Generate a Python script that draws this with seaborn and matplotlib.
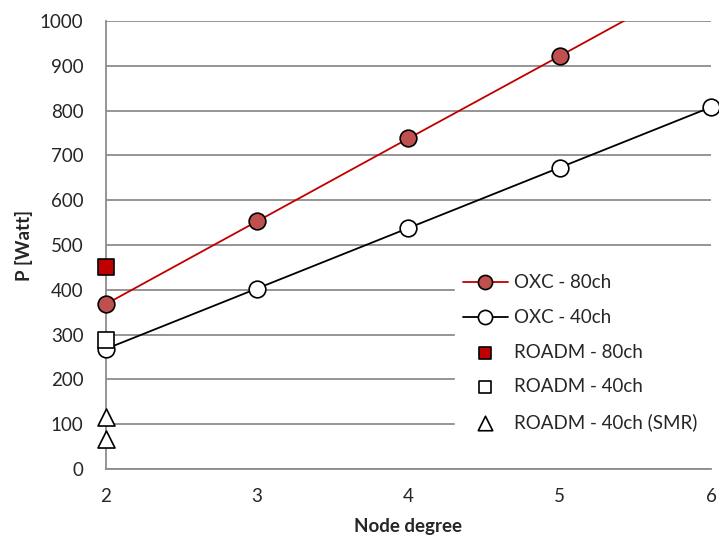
import numpy as np
import pandas as pd
import matplotlib
matplotlib.use('Agg')
import matplotlib.pyplot as plt
from matplotlib.patches import Rectangle
import seaborn as sns

# data
degree = [2, 3, 4, 5, 6]
oxc_80 = [368, 553, 738, 922, 1107]
oxc_40 = [268, 403, 538, 673, 808]
roadm_80_x = [2]
roadm_80 = [450]
roadm_40_x = [2]
roadm_40 = [287]
roadm_smr_x = [2, 2]
roadm_smr = [117, 68]

sns.set_style('white')
plt.rcParams['font.family'] = ['Lato', 'DejaVu Sans']
fs = 13.5

fig = plt.figure(figsize=(7.19, 5.41), dpi=100)
ax = fig.add_axes([0.147, 0.133, 0.842, 0.828])

df80 = pd.DataFrame({'x': degree, 'y': oxc_80})
df40 = pd.DataFrame({'x': degree, 'y': oxc_40})

sns.lineplot(data=df80, x='x', y='y', ax=ax, color='#C00000', lw=1.3,
             marker='o', markersize=12, markerfacecolor='#C0504D',
             markeredgecolor='black', markeredgewidth=1.2, label='OXC - 80ch', zorder=3)
sns.lineplot(data=df40, x='x', y='y', ax=ax, color='black', lw=1.3,
             marker='o', markersize=12, markerfacecolor='white',
             markeredgecolor='black', markeredgewidth=1.2, label='OXC - 40ch', zorder=3)
sns.scatterplot(x=roadm_80_x, y=roadm_80, ax=ax, marker='s', s=120, color='#C00000',
                edgecolor='black', linewidth=1.2, label='ROADM - 80ch', zorder=4)
sns.scatterplot(x=roadm_40_x, y=roadm_40, ax=ax, marker='s', s=120, color='white',
                edgecolor='black', linewidth=1.2, label='ROADM - 40ch', zorder=4)
sns.scatterplot(x=roadm_smr_x, y=roadm_smr, ax=ax, marker='^', s=150, color='white',
                edgecolor='black', linewidth=1.2, label='ROADM - 40ch (SMR)', zorder=4)

ax.set_xlim(2, 6)
ax.set_ylim(0, 1000)

# clip only at the top so markers on the y axis stay whole
clip = Rectangle((1.5, -100), 5, 1100, transform=ax.transData)
for art in ax.lines + list(ax.collections):
    art.set_clip_path(clip)

ax.set_xticks([2, 3, 4, 5, 6])
ax.set_yticks(np.arange(0, 1001, 100))
ax.grid(axis='y', color='#8C8C8C', lw=1.3)
ax.set_axisbelow(True)
for s in ['top', 'right']:
    ax.spines[s].set_visible(False)
for s in ['left', 'bottom']:
    ax.spines[s].set_color('#8C8C8C')
    ax.spines[s].set_linewidth(1.3)
ax.tick_params(axis='both', which='both', length=5, width=1.3, color='#8C8C8C',
               labelsize=fs, direction='out')
ax.tick_params(axis='y', pad=11)
ax.tick_params(axis='x', pad=9)
ax.set_xlabel('Node degree', fontsize=fs, fontweight='bold', labelpad=9)
ax.set_ylabel('P [Watt]', fontsize=fs, fontweight='bold', labelpad=5)

leg = ax.legend(loc='upper left',
                bbox_to_anchor=(455 / 719, 1 - 450 / 541, 264 / 719, 183 / 541),
                bbox_transform=fig.transFigure, mode='expand', frameon=True,
                facecolor='white', edgecolor='white', framealpha=1, fontsize=fs,
                handlelength=2.4, labelspacing=0.94, borderaxespad=0,
                handletextpad=0.35, borderpad=0.4, markerscale=0.85, fancybox=False)
leg.set_zorder(5)

fig.savefig('out.png', dpi=100)
